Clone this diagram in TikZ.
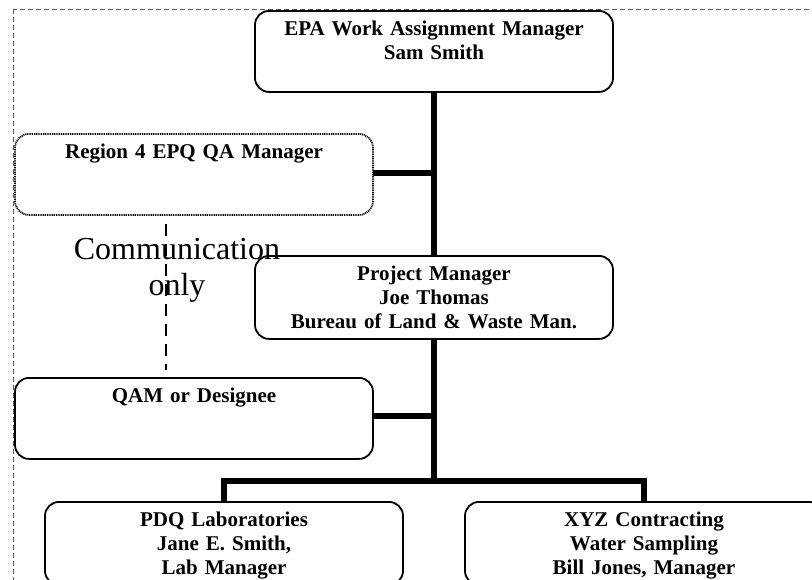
\documentclass[tikz,border=0pt]{standalone}
\usepackage{fontspec}
\setmainfont{Liberation Serif}
\usepackage{xcolor}
\definecolor{frame-grey}{HTML}{5A5A5A}

\tikzset{
    orgbox/.style={draw, fill=white, line width=1.8pt, rounded corners=14pt, anchor=north,
        align=center, text width=358pt, inner xsep=0pt, inner ysep=11pt,
        text height=14pt, text depth=45pt, font=\bfseries\fontsize{21}{24}\selectfont},
    dottedbox/.style={dash pattern=on 1pt off 0.8pt},
    trunk/.style={line width=5.5pt},
    frame/.style={frame-grey, line width=1pt, dash pattern=on 5pt off 3pt},
    note/.style={anchor=north, align=center, inner sep=0pt, font=\fontsize{32}{36}\selectfont},
    commline/.style={line width=2.2pt, dash pattern=on 12pt off 8pt, dash phase=12pt}
}

\begin{document}
\begin{tikzpicture}[x=1pt, y=-1pt]

    % Page
    \useasboundingbox (0, 0) rectangle (812, 579);
    \clip (0, 0) rectangle (812, 579);

    % Outer frame
    \draw[frame] (13, 9) rectangle (840, 600);

    % Joints
    \coordinate (fork) at (434, 481);
    \coordinate (commend) at (166, 370);

    % Lines
    \draw[trunk] (434, 91) -- (fork);
    \draw[trunk] (194, 173) -- (434, 173);
    \draw[trunk] (194, 416) -- (434, 416);
    \draw[trunk] (224, 501) |- (fork) -| (644, 501);

    % Boxes
    \node[orgbox] (epa) at (434, 10) {EPA Work Assignment Manager\\Sam Smith};
    \node[orgbox, dottedbox] (region) at (194, 133) {Region 4 EPQ QA Manager};
    \node[orgbox, text depth=47pt] (project) at (434, 255) {Project Manager\\Joe Thomas\\Bureau of Land \& Waste Man.};
    \node[orgbox] (qam) at (194, 377) {QAM or Designee};
    \node[orgbox, text depth=47pt] (pdq) at (224, 501) {PDQ Laboratories\\Jane E. Smith,\\Lab Manager};
    \node[orgbox, text depth=47pt] (xyz) at (644, 501) {XYZ Contracting\\Water Sampling\\Bill Jones, Manager};

    % Note
    \node[note] (comm) at (177, 238) {Communication\\only};
    \draw[commline] (region.south -| commend) -- (commend);

\end{tikzpicture}
\end{document}
